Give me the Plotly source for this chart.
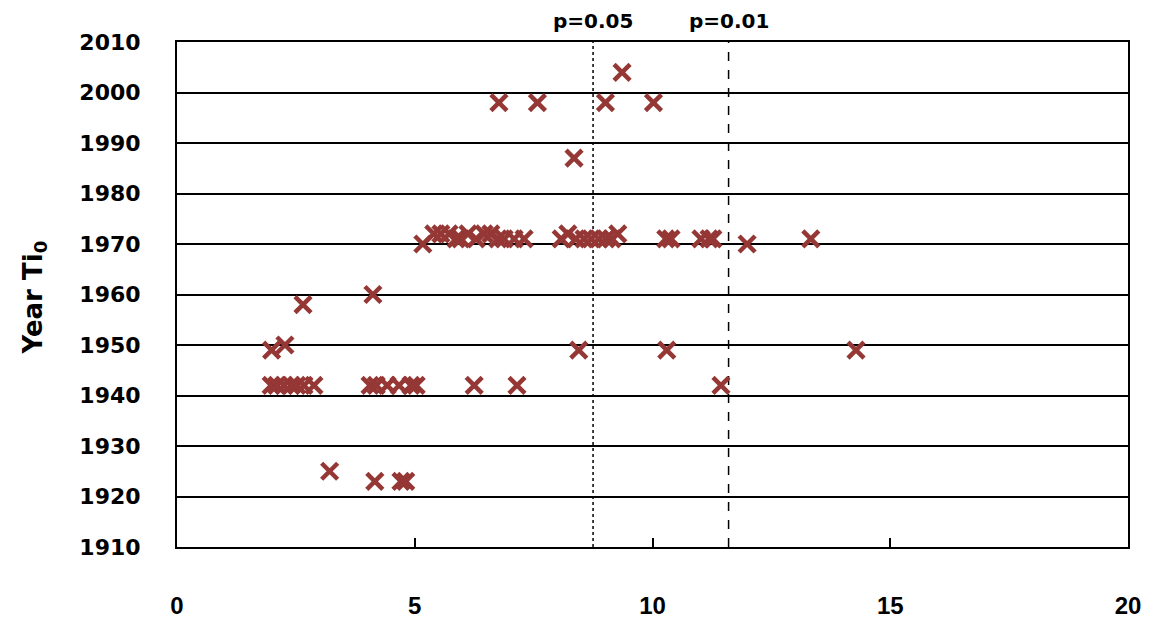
import plotly.graph_objects as go

# Data
x_vals = [
    # 2004 / 1998 / 1987
    9.36, 6.77, 7.58, 9.01, 10.02, 8.35,
    # 1970-1972 band
    5.17, 5.40, 5.55, 5.72, 5.87, 5.97, 6.12, 6.29, 6.46, 6.60, 6.75, 6.88, 7.09, 7.30,
    8.08, 8.22, 8.39, 8.56, 8.71, 8.87, 9.02, 9.15, 9.27,
    10.28, 10.39, 11.02, 11.19, 11.27, 11.99, 13.33,
    # 1958 / 1960
    2.65, 4.12,
    # 1949 / 1950
    1.99, 2.27, 8.45, 10.30, 14.28,
    # 1942
    1.98, 2.10, 2.25, 2.40, 2.52, 2.67, 2.88,
    4.06, 4.19, 4.42, 4.67, 4.92, 5.03, 6.25, 7.15, 11.44,
    # 1925 / 1923
    3.21, 4.16, 4.71, 4.81,
]
y_vals = [
    2004, 1998, 1998, 1998, 1998, 1987,
    1970, 1972, 1972, 1972, 1971, 1971, 1972, 1971, 1972, 1972, 1971, 1971, 1971, 1971,
    1971, 1972, 1971, 1971, 1971, 1971, 1971, 1971, 1972,
    1971, 1971, 1971, 1971, 1971, 1970, 1971,
    1958, 1960,
    1949, 1950, 1949, 1949, 1949,
    1942, 1942, 1942, 1942, 1942, 1942, 1942,
    1942, 1942, 1942, 1942, 1942, 1942, 1942, 1942, 1942,
    1925, 1923, 1923, 1923,
]

thresholds = [8.75, 11.6]
threshold_labels = ["p=0.05", "p=0.01"]
threshold_dash = ["dot", "dash"]

x_ticks = [0, 5, 10, 15, 20]
y_ticks = list(range(1910, 2011, 10))
y_title = "Year Ti<sub>0</sub>"

WIDE = "'DejaVu Sans', Verdana, sans-serif"
NARROW = "'Liberation Sans', Arial, sans-serif"
MARK = "#953735"

fig = go.Figure()
fig.add_trace(go.Scatter(
    x=x_vals, y=y_vals, mode="markers",
    marker=dict(symbol="x-thin-open", size=16, color=MARK,
                line=dict(color=MARK, width=4.5)),
    showlegend=False, hoverinfo="x+y",
))

for xv, lab, dsh in zip(thresholds, threshold_labels, threshold_dash):
    fig.add_shape(type="line", xref="x", yref="y", x0=xv, x1=xv, y0=1910, y1=2010,
                  line=dict(color="black", width=1.5, dash=dsh), layer="below")
    fig.add_annotation(x=xv, y=1.0, xref="x", yref="paper", yanchor="middle",
                       xanchor="center", yshift=21, text=lab, showarrow=False,
                       font=dict(family=WIDE, size=20, color="black", weight="bold"))

fig.add_annotation(x=0, y=0.5, xref="paper", yref="paper", xanchor="center",
                   yanchor="middle", xshift=-143, yshift=-3, textangle=-90, text=y_title,
                   showarrow=False,
                   font=dict(family=WIDE, size=26, color="black", weight="bold"))

fig.update_layout(
    width=1163, height=622,
    margin=dict(l=177, r=35, t=42, b=75),
    paper_bgcolor="white", plot_bgcolor="white",
    font=dict(family=WIDE, color="black", size=20, weight="bold"),
)
fig.update_xaxes(
    range=[0, 20], tickvals=x_ticks, ticktext=[str(t) for t in x_ticks],
    showgrid=False, zeroline=False, automargin=False,
    showline=True, linecolor="black", linewidth=2, mirror=True,
    ticks="inside", ticklen=9, tickwidth=1.5, tickcolor="black",
    ticklabelstandoff=36,
    tickfont=dict(family=NARROW, size=24, color="black", weight="bold"),
)
fig.update_yaxes(
    range=[1910, 2010], tickvals=y_ticks, ticktext=[str(t) for t in y_ticks],
    showgrid=True, gridcolor="black", gridwidth=2, zeroline=False, automargin=False,
    showline=True, linecolor="black", linewidth=2, mirror=True,
    ticks="", ticklabelstandoff=30,
    tickfont=dict(family=WIDE, size=22, color="black", weight="bold"),
)

fig.write_html("out.html")
